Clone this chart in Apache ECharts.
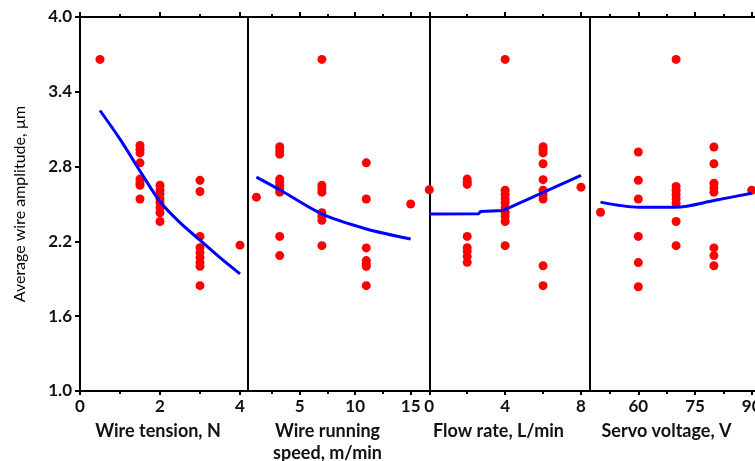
<!DOCTYPE html>
<html>
<head>
<meta charset="utf-8">
<script src="https://cdn.jsdelivr.net/npm/echarts@6/dist/echarts.min.js"></script>
<style>html,body{margin:0;padding:0;background:#fff}#c{width:755px;height:461px}</style>
</head>
<body>
<div id="c"></div>
<script>
// ---- data ----
const yTicks = [1.0, 1.6, 2.2, 2.8, 3.4, 4.0];

const tensionPts = [
  [0.5, 3.66],
  [1.5, 2.97], [1.5, 2.94], [1.5, 2.91], [1.5, 2.83], [1.5, 2.70], [1.5, 2.675], [1.5, 2.65], [1.5, 2.54],
  [2, 2.65], [2, 2.61], [2, 2.58], [2, 2.54], [2, 2.51], [2, 2.47], [2, 2.43], [2, 2.36],
  [3, 2.69], [3, 2.60], [3, 2.24], [3, 2.15], [3, 2.11], [3, 2.07], [3, 2.03], [3, 2.00], [3, 1.845],
  [4, 2.17]
];
const tensionFit = [[0.5, 3.25], [1, 3.02], [1.5, 2.765], [2, 2.52], [2.5, 2.35], [3, 2.21], [3.5, 2.07], [4, 1.94]];

const speedPts = [
  [1.1, 2.555],
  [3.2, 2.96], [3.2, 2.93], [3.2, 2.90], [3.2, 2.70], [3.2, 2.675], [3.2, 2.65], [3.2, 2.62], [3.2, 2.595], [3.2, 2.24], [3.2, 2.086],
  [7, 3.66], [7, 2.65], [7, 2.62], [7, 2.595], [7, 2.43], [7, 2.40], [7, 2.37], [7, 2.166],
  [11, 2.83], [11, 2.54], [11, 2.148], [11, 2.046], [11, 2.02], [11, 2.00], [11, 1.845],
  [15, 2.50]
];
const speedFit = [[1.1, 2.716], [3.2, 2.614], [7, 2.42], [11, 2.30], [15, 2.22]];

const flowPts = [
  [0, 2.614],
  [2, 2.70], [2, 2.675], [2, 2.657], [2, 2.24], [2, 2.15], [2, 2.118], [2, 2.078], [2, 2.032],
  [4, 3.66], [4, 2.61], [4, 2.576], [4, 2.54], [4, 2.51], [4, 2.47], [4, 2.434], [4, 2.40], [4, 2.36], [4, 2.166],
  [6, 2.96], [6, 2.935], [6, 2.91], [6, 2.823], [6, 2.695], [6, 2.61], [6, 2.576], [6, 2.54], [6, 2.005], [6, 1.845],
  [8, 2.635]
];
const flowFit = [[0, 2.42], [2.6, 2.422], [2.7, 2.44], [3.9, 2.448], [8, 2.73]];

const voltPts = [
  [50, 2.434],
  [60, 2.917], [60, 2.69], [60, 2.54], [60, 2.24], [60, 2.03], [60, 1.836],
  [70, 3.66], [70, 2.64], [70, 2.61], [70, 2.576], [70, 2.54], [70, 2.506], [70, 2.36], [70, 2.166],
  [80, 2.957], [80, 2.823], [80, 2.667], [80, 2.63], [80, 2.595], [80, 2.148], [80, 2.086], [80, 2.005],
  [90, 2.61]
];
const voltFit = [[50, 2.515], [60, 2.474], [70, 2.474], [80, 2.528], [90, 2.587]];

const panelNames = ['Wire tension, N', 'Wire running\nspeed, m/min', 'Flow rate, L/min', 'Servo voltage, V'];
const majorTicks = [[0, 2, 4], [5, 10, 15], [0, 4, 8], [60, 75, 90]];
const minorTicks = [[1, 3], [2.5, 7.5, 12.5], [2, 6], [52.5, 67.5, 82.5]];
const xRanges = [[0, 4.2], [0.342, 15.75], [-0.543, 8.475], [47.22, 90.87]];

// ---- layout ----
const gridBox = [[80, 168], [248, 171], [419, 171], [590, 165]];
const FONT = 'Lato';
const AX = '#000';

const grids = gridBox.map(([l, w]) => ({ left: l, width: w, top: 17, height: 374, containLabel: false, outerBoundsMode: 'none' }));

const xAxes = [];
for (let g = 0; g < 4; g++) {
  const [mn, mx] = xRanges[g];
  const base = { type: 'value', gridIndex: g, min: mn, max: mx, splitLine: { show: false } };
  xAxes.push(Object.assign({}, base, {
    position: 'bottom',
    axisLine: { show: true, lineStyle: { color: AX, width: 2 } },
    axisTick: { show: true, length: 4, customValues: majorTicks[g], lineStyle: { color: AX, width: 2 } },
    axisLabel: { show: true, customValues: majorTicks[g], margin: 7, color: '#111', fontFamily: FONT, fontWeight: 'bold', fontSize: 17 },
    name: panelNames[g], nameLocation: 'middle', nameGap: 25,
    nameTextStyle: { color: '#111', fontFamily: FONT, fontWeight: 'bold', fontSize: 18, lineHeight: 22, padding: [0, 12, 0, 0] }
  }));
  xAxes.push(Object.assign({}, base, {
    position: 'bottom',
    axisLine: { show: false },
    axisTick: { show: true, length: 3, customValues: minorTicks[g], lineStyle: { color: AX, width: 2 } },
    axisLabel: { show: false }
  }));
  xAxes.push(Object.assign({}, base, {
    position: 'top',
    axisLine: { show: true, lineStyle: { color: AX, width: 2 } },
    axisTick: { show: true, length: 5, customValues: majorTicks[g], lineStyle: { color: AX, width: 2 } },
    axisLabel: { show: false }
  }));
  xAxes.push(Object.assign({}, base, {
    position: 'top',
    axisLine: { show: false },
    axisTick: { show: true, length: 3, customValues: minorTicks[g], lineStyle: { color: AX, width: 2 } },
    axisLabel: { show: false }
  }));
}

const yAxes = [];
for (let g = 0; g < 4; g++) {
  yAxes.push({
    type: 'value', gridIndex: g, min: 1.0, max: 4.0, position: 'left',
    splitLine: { show: false },
    axisLine: { show: true, lineStyle: { color: AX, width: 2 } },
    axisTick: { show: g === 0, length: 5, customValues: yTicks, lineStyle: { color: AX, width: 2 } },
    axisLabel: g === 0 ? { show: true, customValues: yTicks, formatter: v => v.toFixed(1), margin: 8,
      color: '#111', fontFamily: FONT, fontWeight: 'bold', fontSize: 17 } : { show: false },
    name: g === 0 ? 'Average wire amplitude, \u00b5m' : '',
    nameLocation: 'middle', nameGap: 52,
    nameTextStyle: { color: '#000', fontFamily: FONT, fontSize: 16 }
  });
}

const ptsList = [tensionPts, speedPts, flowPts, voltPts];
const fitList = [tensionFit, speedFit, flowFit, voltFit];
const series = [];
for (let g = 0; g < 4; g++) {
  series.push({
    type: 'scatter', xAxisIndex: 4 * g, yAxisIndex: g, data: ptsList[g],
    symbol: 'circle', symbolSize: 9, itemStyle: { color: '#ff0000', opacity: 1 }, silent: true, z: 2
  });
  series.push({
    type: 'line', xAxisIndex: 4 * g, yAxisIndex: g, data: fitList[g],
    smooth: g === 2 ? false : 0.3, showSymbol: false, symbol: 'none',
    lineStyle: { color: '#0000ff', width: 3 }, silent: true, z: 3
  });
}

const chart = echarts.init(document.getElementById('c'), null, { renderer: 'canvas' });
chart.setOption({
  animation: false,
  backgroundColor: '#fff',
  grid: grids,
  xAxis: xAxes,
  yAxis: yAxes,
  series: series
});
</script>
</body>
</html>
